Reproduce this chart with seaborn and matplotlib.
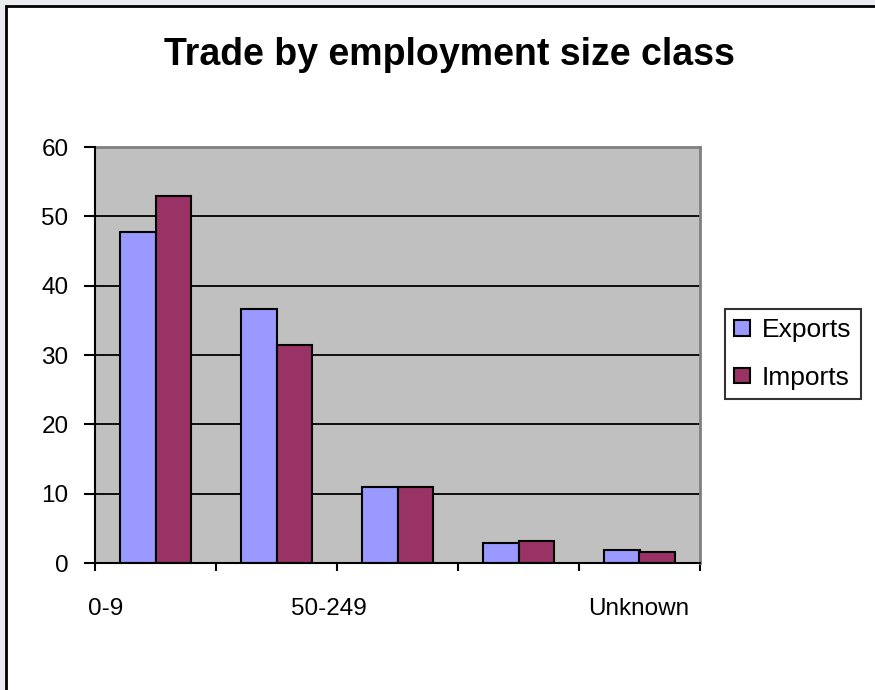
import matplotlib
matplotlib.use("Agg")
import matplotlib.pyplot as plt
from matplotlib.patches import Rectangle
import seaborn as sns
import pandas as pd

categories = ["0-9", "10-49", "50-249", "250+", "Unknown"]
exports = [47.7, 36.7, 11.0, 2.85, 1.9]
imports = [52.9, 31.5, 11.0, 3.2, 1.55]
series_names = ["Exports", "Imports"]
shown_labels = ["0-9", "50-249", "Unknown"]
yticks = [0, 10, 20, 30, 40, 50, 60]

df = pd.DataFrame({
    "category": categories * 2,
    "value": exports + imports,
    "series": [series_names[0]] * len(categories) + [series_names[1]] * len(categories),
})

sns.set_theme(style="white")
plt.rcParams["font.family"] = ["Liberation Sans", "DejaVu Sans"]
plt.rcParams["text.color"] = "black"
plt.rcParams["xtick.color"] = "black"
plt.rcParams["ytick.color"] = "black"
plt.rcParams["xtick.labelcolor"] = "black"
plt.rcParams["ytick.labelcolor"] = "black"

W, H = 875, 690
fig = plt.figure(figsize=(W / 100, H / 100), dpi=100)
fig.patch.set_facecolor("#E9ECF0")
fig.patches.append(Rectangle((6 / W, -0.2), 1.2, 1 - 6 / H + 0.2, transform=fig.transFigure,
                             facecolor="white", edgecolor="black", linewidth=2, zorder=-10))

ax = fig.add_axes([95 / W, (H - 563) / H, (700 - 95) / W, (563 - 147) / H])
ax.set_facecolor("#C0C0C0")

sns.barplot(data=df, x="category", y="value", hue="series", order=categories,
            hue_order=series_names, palette=["#9999FF", "#993366"],
            width=0.58, gap=0, edgecolor="black", linewidth=1.5, saturation=1,
            ax=ax, legend=True, zorder=3)

ax.set_ylim(0, 60)
ax.set_xlim(-0.5, len(categories) - 0.5)
ax.set_yticks(yticks)
ax.set_yticklabels([str(v) for v in yticks], fontsize=17.5)
for v in yticks[1:-1]:
    ax.axhline(v, color="black", linewidth=1.3, zorder=1)

bounds = [i - 0.5 for i in range(len(categories) + 1)]
ax.set_xticks(bounds)
ax.set_xticklabels([""] * len(bounds))
label_pos = [-0.41, 1.43, 3.99]
ax.set_xticks(label_pos, minor=True)
ax.set_xticklabels(shown_labels, minor=True, fontsize=17.5)
ax.tick_params(axis="x", which="minor", length=0, pad=25)
ax.tick_params(axis="x", which="major", length=6, width=1.5, color="black", direction="out", bottom=True)
ax.tick_params(axis="y", length=8, width=1.5, color="black", direction="out", left=True, pad=11)
ax.set_xlabel("")
ax.set_ylabel("")

for s in ["left", "bottom"]:
    ax.spines[s].set_color("black")
    ax.spines[s].set_linewidth(1.5)
    ax.spines[s].set_zorder(5)
for s in ["top", "right"]:
    ax.spines[s].set_color("#808080")
    ax.spines[s].set_linewidth(2)

leg = ax.legend(loc="center left", bbox_to_anchor=(725 / W, (H - 354) / H),
                bbox_transform=fig.transFigure, fontsize=19, frameon=True,
                fancybox=False, shadow=False, handlelength=0.6, handleheight=0.55,
                handletextpad=0.45, borderpad=0.35, labelspacing=0.9,
                borderaxespad=0)
leg.get_frame().set_edgecolor("black")
leg.get_frame().set_linewidth(1.5)
leg.get_frame().set_facecolor("white")
for h in leg.legend_handles:
    h.set_edgecolor("black")
    h.set_linewidth(1.5)

fig.text(449 / W, 1 - 55 / H, "Trade by employment size class", ha="center", va="center",
         fontsize=27, fontweight="bold", color="black")

fig.savefig("out.png", dpi=100, facecolor=fig.get_facecolor())
